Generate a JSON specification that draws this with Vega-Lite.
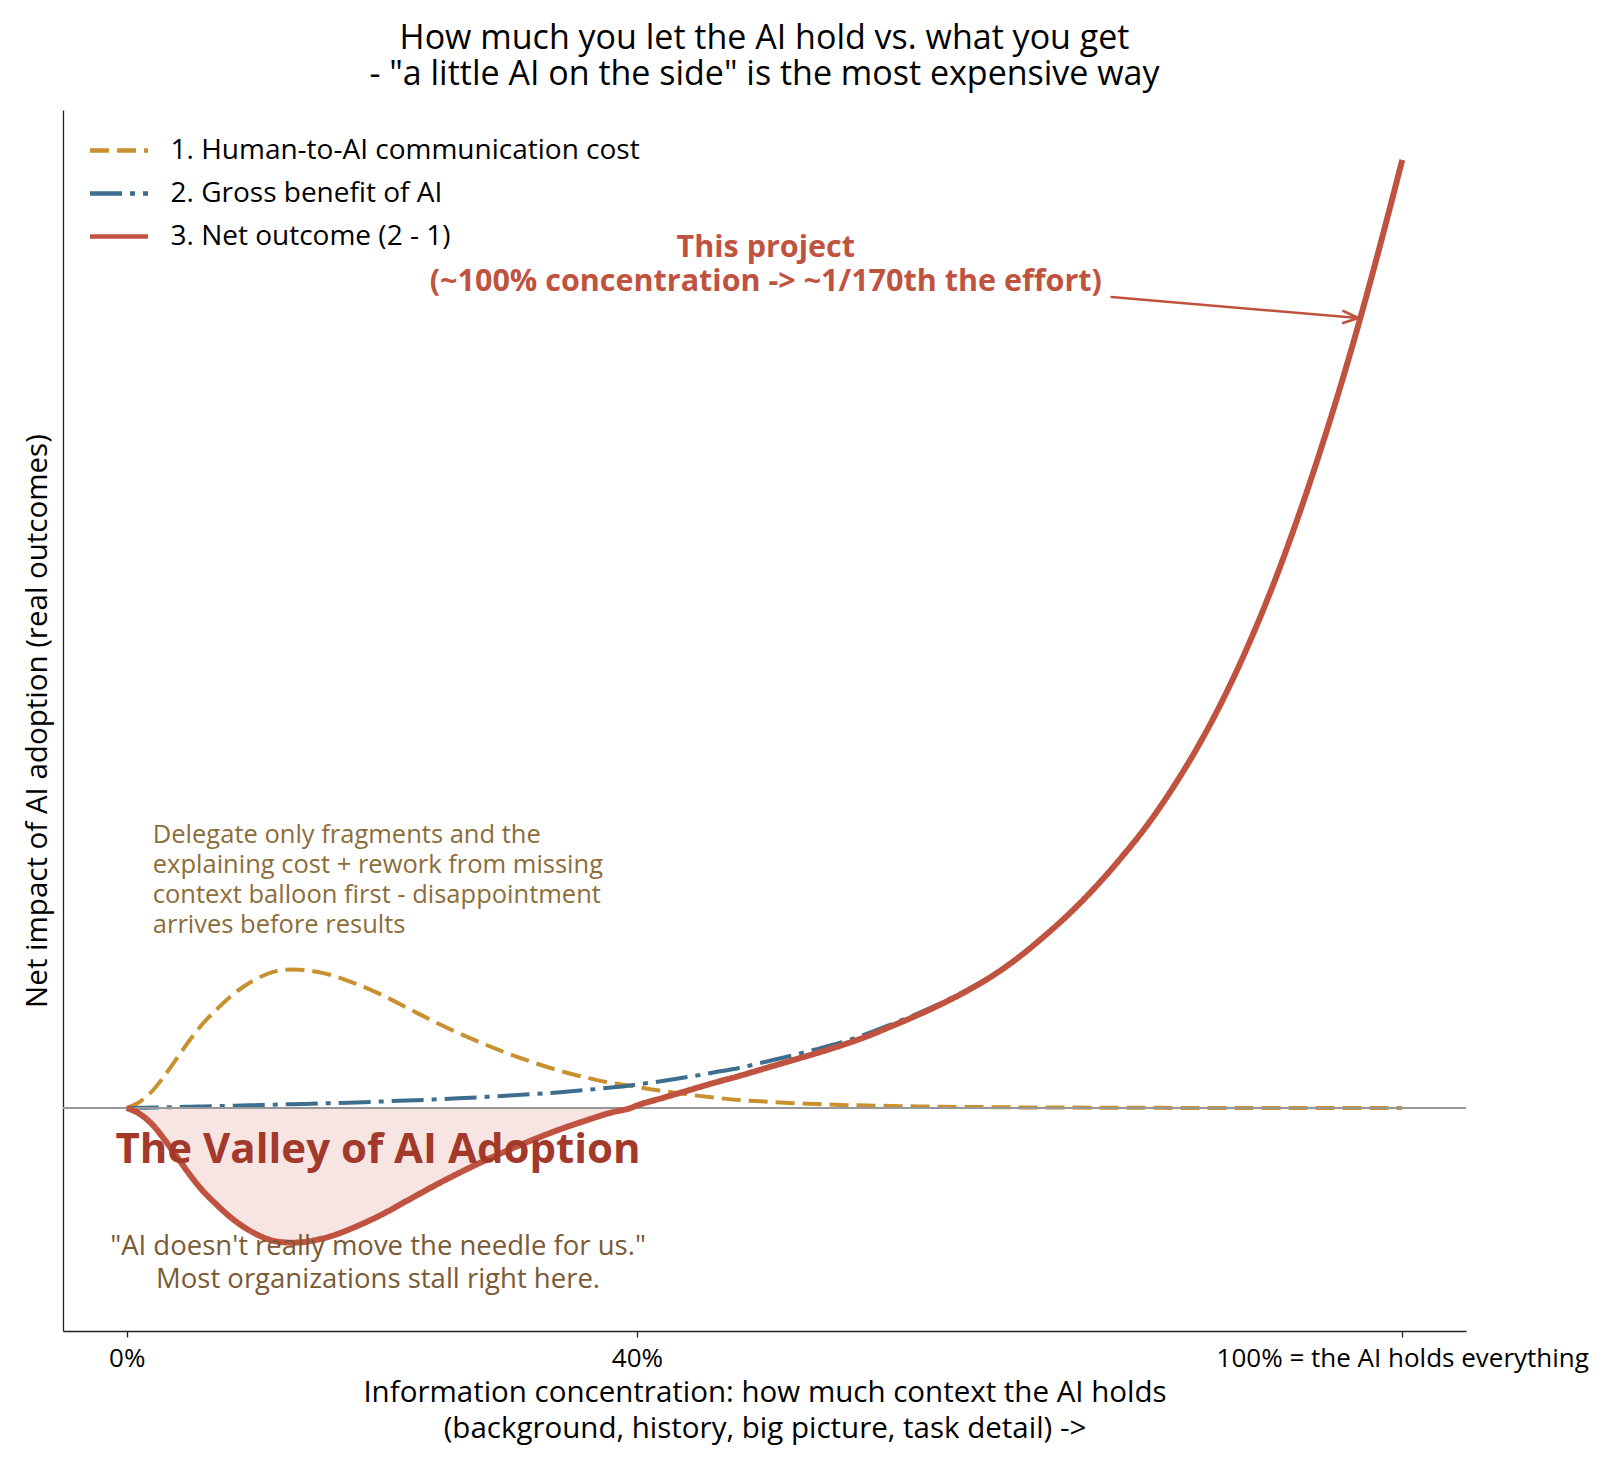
{
  "$schema": "https://vega.github.io/schema/vega-lite/v6.json",
  "width": 1403,
  "height": 1221,
  "autosize": {"type": "none"},
  "padding": {"left": 63, "top": 110, "right": 154, "bottom": 139},
  "background": "white",
  "title": {
    "text": ["How much you let the AI hold vs. what you get", "- \"a little AI on the side\" is the most expensive way"],
    "fontSize": 34,
    "fontWeight": "normal",
    "color": "black",
    "lineHeight": 36,
    "anchor": "middle",
    "frame": "group",
    "offset": 18
  },
  "config": {
    "font": "Open Sans",
    "view": {"stroke": null},
    "axis": {"grid": false}
  },
  "data": {
    "values": [
      {"x": 0, "cost": 0, "gross": 0, "net": 0},
      {"x": 1, "cost": 0.06, "gross": 0.002, "net": -0.058},
      {"x": 2, "cost": 0.17, "gross": 0.005, "net": -0.165},
      {"x": 3, "cost": 0.33, "gross": 0.007, "net": -0.323},
      {"x": 4, "cost": 0.51, "gross": 0.01, "net": -0.5},
      {"x": 5, "cost": 0.69, "gross": 0.013, "net": -0.677},
      {"x": 6, "cost": 0.85, "gross": 0.016, "net": -0.834},
      {"x": 7, "cost": 0.98, "gross": 0.019, "net": -0.961},
      {"x": 8, "cost": 1.1, "gross": 0.022, "net": -1.078},
      {"x": 9, "cost": 1.2, "gross": 0.025, "net": -1.175},
      {"x": 10, "cost": 1.28, "gross": 0.028, "net": -1.252},
      {"x": 11, "cost": 1.34, "gross": 0.031, "net": -1.309},
      {"x": 12, "cost": 1.375, "gross": 0.035, "net": -1.34},
      {"x": 13, "cost": 1.385, "gross": 0.038, "net": -1.347},
      {"x": 14, "cost": 1.38, "gross": 0.041, "net": -1.339},
      {"x": 15, "cost": 1.36, "gross": 0.045, "net": -1.315},
      {"x": 16, "cost": 1.33, "gross": 0.048, "net": -1.282},
      {"x": 18, "cost": 1.24, "gross": 0.056, "net": -1.184},
      {"x": 20, "cost": 1.13, "gross": 0.065, "net": -1.065},
      {"x": 22, "cost": 1.0, "gross": 0.075, "net": -0.925},
      {"x": 24, "cost": 0.87, "gross": 0.085, "net": -0.785},
      {"x": 26, "cost": 0.75, "gross": 0.097, "net": -0.653},
      {"x": 28, "cost": 0.64, "gross": 0.11, "net": -0.53},
      {"x": 30, "cost": 0.54, "gross": 0.124, "net": -0.416},
      {"x": 32, "cost": 0.45, "gross": 0.14, "net": -0.31},
      {"x": 34, "cost": 0.37, "gross": 0.158, "net": -0.212},
      {"x": 36, "cost": 0.305, "gross": 0.18, "net": -0.125},
      {"x": 38, "cost": 0.25, "gross": 0.205, "net": -0.045},
      {"x": 39.5, "cost": 0.222, "gross": 0.226, "net": 0.0},
      {"x": 40, "cost": 0.21, "gross": 0.235, "net": 0.025},
      {"x": 42, "cost": 0.17, "gross": 0.27, "net": 0.1},
      {"x": 44, "cost": 0.135, "gross": 0.31, "net": 0.175},
      {"x": 46, "cost": 0.105, "gross": 0.355, "net": 0.25},
      {"x": 48, "cost": 0.08, "gross": 0.4, "net": 0.32},
      {"x": 50, "cost": 0.065, "gross": 0.46, "net": 0.395},
      {"x": 52, "cost": 0.05, "gross": 0.52, "net": 0.47},
      {"x": 54, "cost": 0.04, "gross": 0.585, "net": 0.545},
      {"x": 56, "cost": 0.03, "gross": 0.655, "net": 0.625},
      {"x": 58, "cost": 0.025, "gross": 0.74, "net": 0.715},
      {"x": 60, "cost": 0.02, "gross": 0.84, "net": 0.82},
      {"x": 62, "cost": 0.016, "gross": 0.945, "net": 0.929},
      {"x": 64, "cost": 0.012, "gross": 1.06, "net": 1.048},
      {"x": 66, "cost": 0.01, "gross": 1.19, "net": 1.18},
      {"x": 68, "cost": 0.008, "gross": 1.34, "net": 1.332},
      {"x": 70, "cost": 0.006, "gross": 1.52, "net": 1.514},
      {"x": 72, "cost": 0.005, "gross": 1.73, "net": 1.725},
      {"x": 74, "cost": 0.004, "gross": 1.96, "net": 1.956},
      {"x": 76, "cost": 0.003, "gross": 2.22, "net": 2.217},
      {"x": 78, "cost": 0.002, "gross": 2.51, "net": 2.508},
      {"x": 80, "cost": 0.002, "gross": 2.83, "net": 2.828},
      {"x": 82, "cost": 0.001, "gross": 3.2, "net": 3.199},
      {"x": 84, "cost": 0.001, "gross": 3.62, "net": 3.619},
      {"x": 86, "cost": 0.001, "gross": 4.1, "net": 4.099},
      {"x": 88, "cost": 0.001, "gross": 4.65, "net": 4.649},
      {"x": 90, "cost": 0, "gross": 5.27, "net": 5.27},
      {"x": 92, "cost": 0, "gross": 5.97, "net": 5.97},
      {"x": 94, "cost": 0, "gross": 6.74, "net": 6.74},
      {"x": 96, "cost": 0, "gross": 7.58, "net": 7.58},
      {"x": 98, "cost": 0, "gross": 8.5, "net": 8.5},
      {"x": 100, "cost": 0, "gross": 9.48, "net": 9.48}
    ]
  },
  "layer": [
    {
      "transform": [{"filter": "datum.x <= 39.5"}],
      "mark": {"type": "area", "color": "#c0533f", "opacity": 0.15, "interpolate": "monotone"},
      "encoding": {
        "x": {
          "field": "x", "type": "quantitative",
          "scale": {"domain": [-5, 105], "nice": false, "zero": false},
          "axis": {
            "values": [0, 40, 100],
            "labelExpr": "datum.value == 0 ? '0%' : datum.value == 40 ? '40%' : '100% = the AI holds everything'",
            "title": ["Information concentration: how much context the AI holds", "(background, history, big picture, task detail) ->"],
            "titleFontSize": 29.5,
            "titleFontWeight": "normal",
            "titleColor": "black",
            "titleLineHeight": 36,
            "titlePadding": 7,
            "labelFontSize": 26,
            "labelColor": "black",
            "labelPadding": 8,
            "labelLimit": 1000,
            "labelFlush": false,
            "labelOverlap": false,
            "labelBound": false,
            "tickSize": 6,
            "tickColor": "#222",
            "tickWidth": 1.3,
            "domainColor": "#222",
            "domainWidth": 1.3
          }
        },
        "y": {
          "field": "net", "type": "quantitative",
          "scale": {"domain": [-2.23, 9.98], "nice": false, "zero": false},
          "axis": {
            "ticks": false,
            "labels": false,
            "title": "Net impact of AI adoption (real outcomes)",
            "titleFontSize": 29.5,
            "titleFontWeight": "normal",
            "titleColor": "black",
            "titlePadding": 11,
            "domainColor": "#222",
            "domainWidth": 1.3
          }
        },
        "y2": {"datum": 0}
      }
    },
    {
      "transform": [
        {"fold": ["cost", "gross", "net"], "as": ["series", "value"]},
        {"filter": "datum.series != 'net'"}
      ],
      "mark": {"type": "line", "interpolate": "monotone", "strokeWidth": 4},
      "encoding": {
        "x": {"field": "x", "type": "quantitative", "scale": {"domain": [-5, 105], "nice": false, "zero": false}},
        "y": {"field": "value", "type": "quantitative", "scale": {"domain": [-2.23, 9.98], "nice": false, "zero": false}},
        "color": {
          "field": "series", "type": "nominal",
          "scale": {"domain": ["cost", "gross", "net"], "range": ["#c8902e", "#3d6e90", "#c0533f"]},
          "legend": {
            "title": null, "orient": "none", "legendX": 24.5, "legendY": 19,
            "symbolType": "stroke", "symbolSize": 3364, "symbolStrokeWidth": 4.5, "labelFontSize": 28, "labelOffset": 20,
            "clipHeight": 43, "rowPadding": 0, "padding": 0, "labelLimit": 900, "labelColor": "black",
            "labelExpr": "datum.label == 'cost' ? '1. Human-to-AI communication cost' : datum.label == 'gross' ? '2. Gross benefit of AI' : '3. Net outcome (2 - 1)'"
          }
        },
        "strokeDash": {
          "field": "series", "type": "nominal",
          "scale": {"domain": ["cost", "gross", "net"], "range": [[19, 8], [32, 8, 5, 8], [1, 0]]},
          "legend": {
            "title": null, "orient": "none", "legendX": 24.5, "legendY": 19,
            "symbolType": "stroke", "symbolSize": 3364, "symbolStrokeWidth": 4.5, "labelFontSize": 28, "labelOffset": 20,
            "clipHeight": 43, "rowPadding": 0, "padding": 0, "labelLimit": 900, "labelColor": "black",
            "labelExpr": "datum.label == 'cost' ? '1. Human-to-AI communication cost' : datum.label == 'gross' ? '2. Gross benefit of AI' : '3. Net outcome (2 - 1)'"
          }
        }
      }
    },
    {
      "mark": {"type": "rule", "color": "#999999", "strokeWidth": 1.5},
      "encoding": {
        "y": {"datum": 0, "type": "quantitative", "scale": {"domain": [-2.23, 9.98], "nice": false, "zero": false}}
      }
    },
    {
      "transform": [
        {"fold": ["cost", "gross", "net"], "as": ["series", "value"]},
        {"filter": "datum.series == 'net'"}
      ],
      "mark": {"type": "line", "interpolate": "monotone", "strokeWidth": 6},
      "encoding": {
        "x": {"field": "x", "type": "quantitative", "scale": {"domain": [-5, 105], "nice": false, "zero": false}},
        "y": {"field": "value", "type": "quantitative", "scale": {"domain": [-2.23, 9.98], "nice": false, "zero": false}},
        "color": {
          "field": "series", "type": "nominal",
          "scale": {"domain": ["cost", "gross", "net"], "range": ["#c8902e", "#3d6e90", "#c0533f"]},
          "legend": {
            "title": null, "orient": "none", "legendX": 24.5, "legendY": 19,
            "symbolType": "stroke", "symbolSize": 3364, "symbolStrokeWidth": 4.5, "labelFontSize": 28, "labelOffset": 20,
            "clipHeight": 43, "rowPadding": 0, "padding": 0, "labelLimit": 900, "labelColor": "black",
            "labelExpr": "datum.label == 'cost' ? '1. Human-to-AI communication cost' : datum.label == 'gross' ? '2. Gross benefit of AI' : '3. Net outcome (2 - 1)'"
          }
        },
        "strokeDash": {
          "field": "series", "type": "nominal",
          "scale": {"domain": ["cost", "gross", "net"], "range": [[19, 8], [32, 8, 5, 8], [1, 0]]},
          "legend": {
            "title": null, "orient": "none", "legendX": 24.5, "legendY": 19,
            "symbolType": "stroke", "symbolSize": 3364, "symbolStrokeWidth": 4.5, "labelFontSize": 28, "labelOffset": 20,
            "clipHeight": 43, "rowPadding": 0, "padding": 0, "labelLimit": 900, "labelColor": "black",
            "labelExpr": "datum.label == 'cost' ? '1. Human-to-AI communication cost' : datum.label == 'gross' ? '2. Gross benefit of AI' : '3. Net outcome (2 - 1)'"
          }
        }
      }
    },
    {
      "data": {"values": [
        {"x": 77.2, "y": 8.11, "x2": 96.55, "y2": 7.9},
        {"x": 95.38, "y": 7.97, "x2": 96.55, "y2": 7.9},
        {"x": 95.36, "y": 7.85, "x2": 96.55, "y2": 7.9}
      ]},
      "mark": {"type": "rule", "color": "#c0533f", "strokeWidth": 2.5, "strokeCap": "round"},
      "encoding": {
        "x": {"field": "x", "type": "quantitative", "scale": {"domain": [-5, 105], "nice": false, "zero": false}},
        "y": {"field": "y", "type": "quantitative", "scale": {"domain": [-2.23, 9.98], "nice": false, "zero": false}},
        "x2": {"field": "x2"},
        "y2": {"field": "y2"}
      }
    },
    {
      "data": {"values": [
        {"x": 50.1, "y": 8.6, "label": "This project\n(~100% concentration -> ~1/170th the effort)"}
      ]},
      "mark": {"type": "text", "align": "center", "baseline": "middle", "lineBreak": "\n", "lineHeight": 34, "fontSize": 30.5, "fontWeight": "bold", "color": "#c0533f"},
      "encoding": {
        "x": {"field": "x", "type": "quantitative", "scale": {"domain": [-5, 105], "nice": false, "zero": false}},
        "y": {"field": "y", "type": "quantitative", "scale": {"domain": [-2.23, 9.98], "nice": false, "zero": false}},
        "text": {"field": "label"}
      }
    },
    {
      "data": {"values": [
        {"x": 2.04, "y": 2.73, "label": "Delegate only fragments and the\nexplaining cost + rework from missing\ncontext balloon first - disappointment\narrives before results"}
      ]},
      "mark": {"type": "text", "align": "left", "baseline": "middle", "lineBreak": "\n", "lineHeight": 30, "fontSize": 25.5, "color": "#8c6d3a"},
      "encoding": {
        "x": {"field": "x", "type": "quantitative", "scale": {"domain": [-5, 105], "nice": false, "zero": false}},
        "y": {"field": "y", "type": "quantitative", "scale": {"domain": [-2.23, 9.98], "nice": false, "zero": false}},
        "text": {"field": "label"}
      }
    },
    {
      "data": {"values": [
        {"x": 19.7, "y": -0.42, "label": "The Valley of AI Adoption"}
      ]},
      "mark": {"type": "text", "align": "center", "baseline": "middle", "fontSize": 42, "fontWeight": "bold", "color": "#a3392b"},
      "encoding": {
        "x": {"field": "x", "type": "quantitative", "scale": {"domain": [-5, 105], "nice": false, "zero": false}},
        "y": {"field": "y", "type": "quantitative", "scale": {"domain": [-2.23, 9.98], "nice": false, "zero": false}},
        "text": {"field": "label"}
      }
    },
    {
      "data": {"values": [
        {"x": 19.7, "y": -1.385, "label": "\"AI doesn't really move the needle for us.\"\nMost organizations stall right here."}
      ]},
      "mark": {"type": "text", "align": "center", "baseline": "middle", "lineBreak": "\n", "lineHeight": 33, "fontSize": 27.5, "color": "#7a5a35"},
      "encoding": {
        "x": {"field": "x", "type": "quantitative", "scale": {"domain": [-5, 105], "nice": false, "zero": false}},
        "y": {"field": "y", "type": "quantitative", "scale": {"domain": [-2.23, 9.98], "nice": false, "zero": false}},
        "text": {"field": "label"}
      }
    }
  ]
}
